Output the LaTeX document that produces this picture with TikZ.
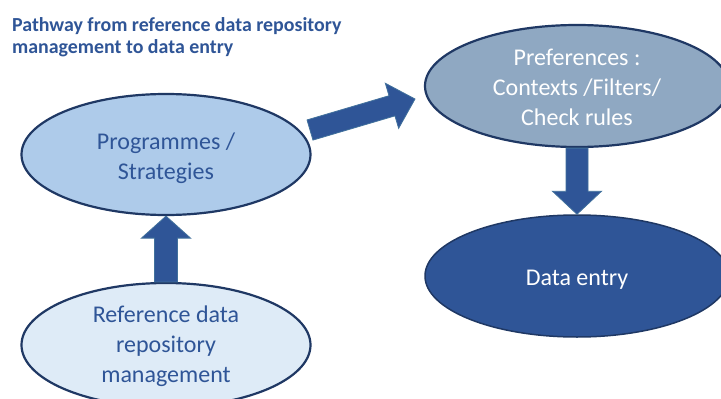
\documentclass[tikz,border=0pt]{standalone}
\usepackage{fontspec}
\setmainfont{Carlito}
\usetikzlibrary{shapes.geometric,calc}
\definecolor{navy}{HTML}{1F3864}
\definecolor{mainblue}{HTML}{2F5597}
\definecolor{arrowedge}{HTML}{41719C}
\definecolor{progfill}{HTML}{AECBEA}
\definecolor{reffill}{HTML}{DEEBF7}
\definecolor{preffill}{HTML}{8FA8C2}
\newcommand\blockarrow[6]{%
  \coordinate (#6n) at ($(#2)!#5!(#1)$);
  \draw[blk] ($(#1)!#3!90:(#2)$) -- ($(#6n)!#3!90:(#2)$) -- ($(#6n)!#4!90:(#2)$) -- (#2)
     -- ($(#6n)!#4!-90:(#2)$) -- ($(#6n)!#3!-90:(#2)$) -- ($(#1)!#3!-90:(#2)$) -- cycle;
}
\begin{document}
\begin{tikzpicture}[x=1pt,y=-1pt,
  oval/.style={ellipse, draw=navy, line width=2.2pt, inner sep=0pt},
  lbl/.style={align=center, font=\fontsize{24}{30}\selectfont, inner sep=0pt, anchor=base},
  blk/.style={fill=mainblue, draw=arrowedge, line width=0.8pt, line join=miter}]
\useasboundingbox (0,0) rectangle (721,399);
\fill[white] (0,0) rectangle (721,399);

\node[anchor=base west, align=left, text=mainblue, inner sep=0pt,
      font=\fontsize{19.9}{21.6}\selectfont\bfseries] (title) at (12,53.3)
  {Pathway from reference data repository\\management to data entry};

\node[oval, fill=progfill, minimum width=289pt, minimum height=121pt] (prog) at (166,154.5) {};
\node[oval, fill=reffill, minimum width=289pt, minimum height=124pt] (ref) at (166,345) {};
\node[oval, fill=preffill, minimum width=304pt, minimum height=122pt] (pref) at (577,86) {};
\node[oval, fill=mainblue, draw=navy, line width=1.5pt, minimum width=304pt, minimum height=122pt] (data) at (577,276) {};

\node[lbl, text=mainblue] (progt) at ($(prog.center)+(0,24.5)$) {Programmes /\\Strategies};
\node[lbl, text=mainblue] (reft) at ($(ref.center)+(0,37)$) {Reference data\\repository\\management};
\node[lbl, text=white] (preft) at ($(pref.center)+(0,39)$) {Preferences :\\Contexts /Filters/\\Check rules};
\node[lbl, text=white] (datat) at ($(data.center)+(0,9)$) {Data entry};

\coordinate (d1) at (310,130);
\coordinate (d2) at (415,99);

\blockarrow{ref.north}{prog.south}{11.5pt}{24.5pt}{22pt}{up}
\blockarrow{pref.south}{data.north}{11pt}{24.5pt}{23pt}{dn}
\blockarrow{d1}{d2}{10.5pt}{23.5pt}{24pt}{dg}
\end{tikzpicture}
\end{document}
